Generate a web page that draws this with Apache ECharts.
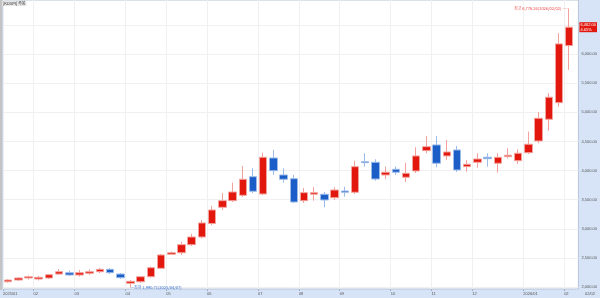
<!DOCTYPE html>
<html><head><meta charset="utf-8">
<script src="https://cdn.jsdelivr.net/npm/echarts@6/dist/echarts.min.js"></script>
<style>html,body{margin:0;padding:0;background:#fff}#c{width:600px;height:298px}</style>
</head><body><div id="c"></div>
<script>
const chartTitle = '[KOSPI] 주봉';
const weeks = ['2025/01/13','2025/01/20','2025/01/27','2025/02/03','2025/02/10','2025/02/17','2025/02/24',
'2025/03/03','2025/03/10','2025/03/17','2025/03/24','2025/03/31','2025/04/07','2025/04/14','2025/04/21','2025/04/28',
'2025/05/05','2025/05/12','2025/05/19','2025/05/26','2025/06/02','2025/06/09','2025/06/16','2025/06/23','2025/06/30',
'2025/07/07','2025/07/14','2025/07/21','2025/07/28','2025/08/04','2025/08/11','2025/08/18','2025/08/25',
'2025/09/01','2025/09/08','2025/09/15','2025/09/22','2025/09/29','2025/10/06','2025/10/13','2025/10/20','2025/10/27',
'2025/11/03','2025/11/10','2025/11/17','2025/11/24','2025/12/01','2025/12/08','2025/12/15','2025/12/22','2025/12/29',
'2026/01/05','2026/01/12','2026/01/19','2026/01/26','2026/02/02'];
const opens = [2091,2120,2155,2137,2155,2223,2246,2206,2235,2263,
2304,2223,2064,2091,2177,2321,2562,2589,2727,2859,
3091,3369,3483,3575,3895,3598,4216,3924,3861,3483,
3593,3593,3534,3649,3627,4153,4142,3924,4022,3885,
3993,4342,4440,4251,4354,4067,4142,4228,4125,4239,
4170,4307,4508,4881,5166,6146];
const closes = [2120,2155,2177,2167,2211,2263,2206,2246,2263,2304,
2246,2160,2098,2177,2332,2550,2589,2727,2859,3100,
3323,3483,3632,3850,3644,4228,3998,3850,3460,3620,
3620,3495,3666,3627,4067,4135,3855,3971,3971,3953,
4251,4410,4125,4319,4010,4108,4199,4204,4228,4263,
4297,4452,4898,5259,6175,6462];
const lows = [2074,2103,2129,2112,2137,2211,2189,2180,2206,2240,
2223,2137,1990.71,2069,2163,2309,2550,2550,2704,2833,
3065,3323,3460,3546,3615,3581,3924,3792,3443,3443,
3483,3369,3495,3551,3598,4067,3826,3850,3924,3804,
3959,4297,4056,4182,3976,3981,4050,4067,3964,4211,
4113,4285,4469,4685,5098,5728];
const highs = [2132,2172,2198,2189,2223,2309,2283,2292,2301,2326,
2326,2241,2120,2189,2352,2567,2610,2778,2911,3151,
3392,3615,3792,4079,4039,4307,4354,4039,3924,3701,
3718,3632,3713,3723,4170,4297,4194,4067,4070,4135,
4400,4594,4594,4525,4422,4182,4297,4297,4297,4383,
4366,4668,5006,5328,6359,6776.26];
const yTicks = [2000,2500,3000,3500,4000,4500,5000,5500,6000,6500];

const fmt = v => v.toLocaleString('en-US',{minimumFractionDigits:2, maximumFractionDigits:2});
const n = weeks.length;
const candles = weeks.map((d,i)=>[i, opens[i], closes[i], lows[i], highs[i]]);
const monthVals = [], monthLbl = {};
weeks.forEach((d,i)=>{
  const p = d.split('/');
  if (i === 0 || weeks[i-1].split('/')[1] !== p[1]) {
    const v = i - 0.5;
    monthVals.push(v);
    monthLbl[String(v)] = (i === 0 || p[1] === '01') ? p[0] + '/' + p[1] : p[1];
  }
});
let iMax = 0, iMin = 0;
highs.forEach((h,i)=>{ if (h > highs[iMax]) iMax = i; });
lows.forEach((l,i)=>{ if (l < lows[iMin]) iMin = i; });
const last = closes[n-1], prev = closes[n-2];
const pct = ((last - prev) / prev * 100).toFixed(2);

const chart = echarts.init(document.getElementById('c'), null, {renderer:'canvas'});
chart.setOption({
  animation: false,
  backgroundColor: '#d7e4f7',
  title: {
    text: chartTitle, left: 2, top: 1, padding: [0.5,1],
    backgroundColor: '#e6e6e6',
    textStyle: {fontSize: 4, color: '#333', fontWeight: 'normal', fontFamily: 'Noto Sans CJK KR'}
  },
  grid: {left: 1, right: 18, top: 0, bottom: 9, show: true, backgroundColor: '#ffffff', borderColor: '#b7c4d8', borderWidth: 1},
  graphic: [
    {type: 'rect', shape: {x: 0, y: 0, width: 2, height: 290}, style: {fill: '#c4c4c4'}, z: 100},
    {type: 'text', x: 585, y: 292, style: {text: weeks[n-1].slice(5), fontSize: 4, fill: '#555', fontFamily: 'Liberation Sans'}, z: 100}
  ],
  xAxis: {
    type: 'value', min: -0.5, max: n - 0.1,
    axisLine: {show: false},
    axisTick: {show: true, customValues: monthVals, length: 2, lineStyle: {color: '#9fb0c8'}},
    axisLabel: {customValues: monthVals, formatter: v => monthLbl[String(v)] || '', align: 'left',
      fontSize: 4, color: '#555', margin: 3, fontFamily: 'Liberation Sans'},
    splitLine: {show: true, lineStyle: {color: '#f0f0f0', width: 1}}
  },
  yAxis: {
    type: 'value', position: 'right', min: 1966, max: 6929, scale: true,
    axisLine: {show: false},
    axisTick: {show: false, customValues: yTicks},
    axisLabel: {customValues: yTicks, formatter: v => fmt(v), fontSize: 4, color: '#555', margin: 3, fontFamily: 'Liberation Sans'},
    splitLine: {show: true, lineStyle: {color: '#f0f0f0', width: 1}}
  },
  series: [{
    type: 'candlestick',
    data: candles,
    encode: {x: 0, y: [1,2,3,4]},
    barWidth: 8,
    clip: false,
    itemStyle: {color: '#e2180e', color0: '#1b5ec8', borderColor: '#f2a19b', borderColor0: '#9dbbe8', borderWidth: 1},
    markPoint: {
      symbol: 'circle', symbolSize: 0, silent: true,
      data: [
        {coord: [iMax, highs[iMax]], label: {show: true, position: 'left', distance: 0, fontSize: 4, color: '#ee4a44',
          fontFamily: 'Noto Sans CJK KR', formatter: '최고 ' + fmt(highs[iMax]) + '(' + weeks[iMax] + ') -----'}},
        {coord: [iMin, lows[iMin]], label: {show: true, position: 'right', distance: 0, fontSize: 4, color: '#3c74d6',
          fontFamily: 'Noto Sans CJK KR', formatter: '—최저 ' + fmt(lows[iMin]) + '(' + weeks[iMin] + ')'}}
      ]
    },
    markLine: {
      symbol: ['none','none'], silent: true,
      lineStyle: {color: 'rgba(0,0,0,0)', width: 1},
      data: [{yAxis: last}],
      label: {show: true, position: 'end', distance: 1, formatter: fmt(last) + '\n' + pct + '%',
        backgroundColor: '#e2180e', color: '#fff', fontSize: 4, lineHeight: 4.5, padding: [0.5,1], fontFamily: 'Liberation Sans'}
    }
  }]
});
</script></body></html>
